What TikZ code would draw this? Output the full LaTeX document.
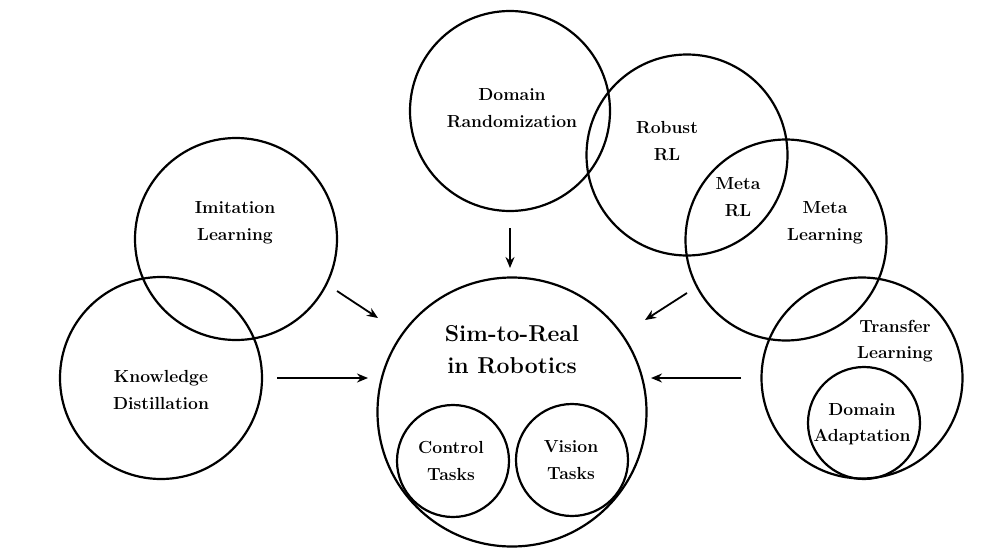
\documentclass[tikz,border=0pt]{standalone}
\usepackage{fontspec}
\usetikzlibrary{arrows.meta}
\begin{document}
\begin{tikzpicture}[x=1pt,y=-1pt,
  circ/.style={draw,circle,line width=2.2pt,inner sep=0pt,minimum size=#1},
  lbl/.style={align=center,font=\bfseries\fontsize{17.5}{26.5}\selectfont,inner sep=0pt},
  big/.style={align=center,font=\bfseries\fontsize{23}{32}\selectfont,inner sep=0pt},
  arr/.style={line width=1.8pt,-{Stealth[length=11pt,width=9pt]}}]
\useasboundingbox (0,0) rectangle (993,557);
% circles
\node[circ=200pt] (dr) at (510,111) {};
\node[circ=201pt] (rr) at (687,155) {};
\node[circ=201pt] (ml) at (786,240) {};
\node[circ=201pt] (tl) at (862,378) {};
\node[circ=112pt] (da) at (864,423) {};
\node[circ=202pt] (il) at (236,239) {};
\node[circ=202pt] (kd) at (161,378) {};
\node[circ=269pt] (sim) at (512,412) {};
\node[circ=112pt] (ct) at (453,461) {};
\node[circ=112pt] (vt) at (572,460) {};
% labels
\node[lbl] (drl) at (512,108) {Domain\\Randomization};
\node[lbl] (rrl) at (667,141) {Robust\\RL};
\node[lbl] (mrl) at (738,197) {Meta\\RL};
\node[lbl] (mll) at (825,223) {Meta\\Learning};
\node[lbl] (tll) at (895,341) {Transfer\\Learning};
\node[lbl] (dal) at (862,424) {Domain\\Adaptation};
\node[lbl] (ill) at (235,223) {Imitation\\Learning};
\node[lbl] (kdl) at (161,390) {Knowledge\\Distillation};
\node[big] (siml) at (512,350) {Sim-to-Real\\in Robotics};
\node[lbl] (ctl) at (451,461) {Control\\Tasks};
\node[lbl] (vtl) at (571,460) {Vision\\Tasks};
% arrow end points
\coordinate (a1) at (510,228); \coordinate (b1) at (510,268);
\coordinate (a2) at (337,291); \coordinate (b2) at (378,318);
\coordinate (a3) at (277,378); \coordinate (b3) at (368,378);
\coordinate (a4) at (687,293); \coordinate (b4) at (645,320);
\coordinate (a5) at (741,378); \coordinate (b5) at (651,378);
\draw[arr] (a1) -- (b1);
\draw[arr] (a2) -- (b2);
\draw[arr] (a3) -- (b3);
\draw[arr] (a4) -- (b4);
\draw[arr] (a5) -- (b5);
\end{tikzpicture}
\end{document}
